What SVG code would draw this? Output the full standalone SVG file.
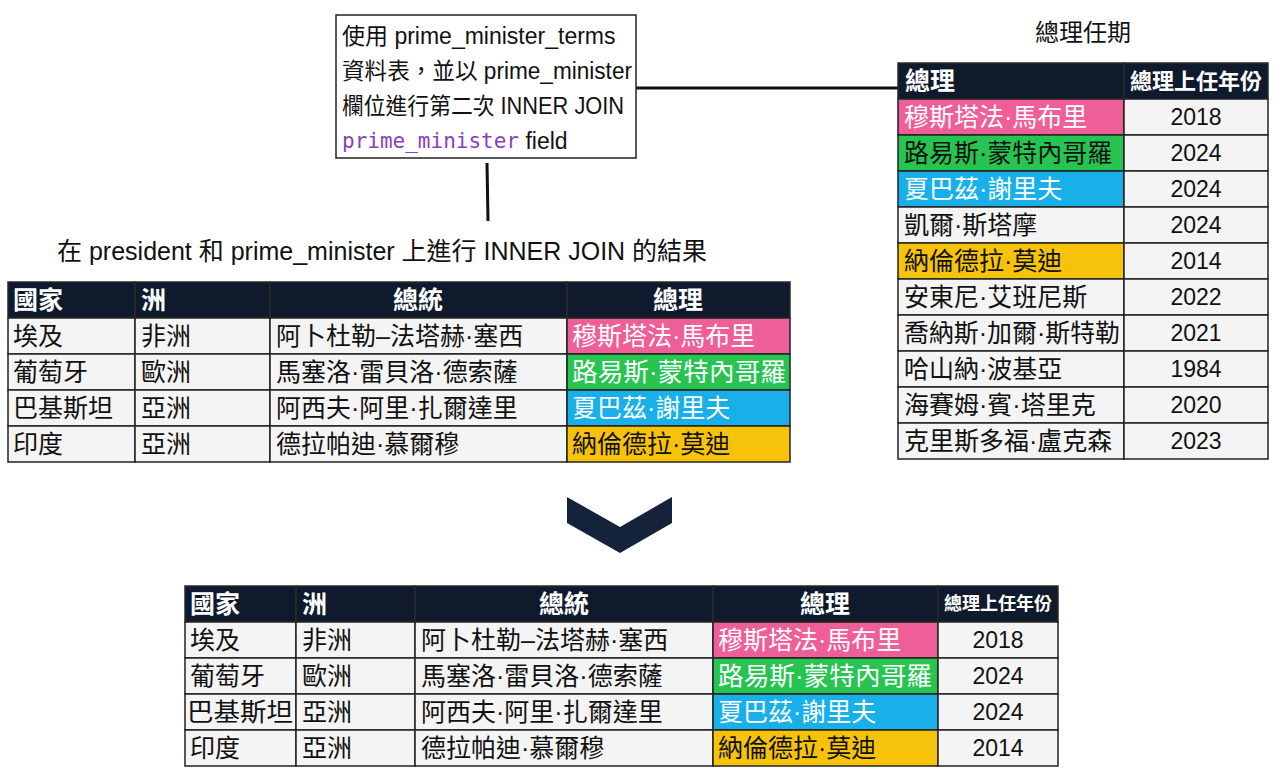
<svg xmlns="http://www.w3.org/2000/svg" width="1284" height="778" viewBox="0 0 1284 778">
<style>
text{font-family:"Liberation Sans","Noto Sans CJK TC",sans-serif;font-size:25px;fill:#111;dominant-baseline:central}
.h{fill:#0f1b2d;stroke:#2a2a2a;stroke-width:1.5}
.c{fill:#f4f4f4;stroke:#222;stroke-width:1.5}
.ht{fill:#fff;font-weight:bold}
.w{fill:#fff}
.mid{text-anchor:middle}
.pk{fill:#ef5f97;stroke:#222;stroke-width:1.5}
.gr{fill:#27c452;stroke:#222;stroke-width:1.5}
.bl{fill:#19b0ea;stroke:#222;stroke-width:1.5}
.yl{fill:#f6c30a;stroke:#222;stroke-width:1.5}
.num{text-anchor:middle;font-size:23px}
.note{font-size:23px}
.sm{font-size:18px}
</style>
<rect width="1284" height="778" fill="#fff"/>
<g id="connectors" stroke="#111" stroke-width="3" fill="none">
<line x1="636" y1="88" x2="898" y2="88"/>
<line x1="487" y1="163" x2="488" y2="221"/>
</g>
<g id="note">
<rect x="336" y="15" width="300" height="143" fill="#fff" stroke="#222" stroke-width="1.5"/>
<text class="note" x="342" y="36">使用 prime_minister_terms</text>
<text class="note" x="342" y="71" textLength="290" lengthAdjust="spacingAndGlyphs">資料表，並以 prime_minister</text>
<text class="note" x="342" y="106" textLength="282" lengthAdjust="spacingAndGlyphs">欄位進行第二次 INNER JOIN</text>
<text class="note" x="342" y="141"><tspan style="font-family:'DejaVu Sans Mono',monospace;fill:#8a3fc0;font-size:21px">prime_minister</tspan> field</text>
</g>
<g id="title-right"><text x="1083" y="32" class="mid" style="font-size:24px">總理任期</text></g>
<g id="title-left"><text x="57" y="251">在 president 和 prime_minister 上進行 INNER JOIN 的結果</text></g>
<g id="pm-table">
<rect class="h" x="898" y="63" width="226" height="36"/><rect class="h" x="1124" y="63" width="144" height="36"/>
<text class="ht" x="905" y="81">總理</text><text class="ht mid" x="1196" y="81" style="font-size:22px">總理上任年份</text>
<rect class="pk" x="898" y="99" width="226" height="36"/><rect class="c" x="1124" y="99" width="144" height="36"/>
<rect class="gr" x="898" y="135" width="226" height="36"/><rect class="c" x="1124" y="135" width="144" height="36"/>
<rect class="bl" x="898" y="171" width="226" height="36"/><rect class="c" x="1124" y="171" width="144" height="36"/>
<rect class="c" x="898" y="207" width="226" height="36"/><rect class="c" x="1124" y="207" width="144" height="36"/>
<rect class="yl" x="898" y="243" width="226" height="36"/><rect class="c" x="1124" y="243" width="144" height="36"/>
<rect class="c" x="898" y="279" width="226" height="36"/><rect class="c" x="1124" y="279" width="144" height="36"/>
<rect class="c" x="898" y="315" width="226" height="36"/><rect class="c" x="1124" y="315" width="144" height="36"/>
<rect class="c" x="898" y="351" width="226" height="36"/><rect class="c" x="1124" y="351" width="144" height="36"/>
<rect class="c" x="898" y="387" width="226" height="36"/><rect class="c" x="1124" y="387" width="144" height="36"/>
<rect class="c" x="898" y="423" width="226" height="36"/><rect class="c" x="1124" y="423" width="144" height="36"/>
<text class="w" x="904" y="117">穆斯塔法·馬布里</text><text class="num" x="1196" y="117">2018</text>
<text x="904" y="153">路易斯·蒙特內哥羅</text><text class="num" x="1196" y="153">2024</text>
<text class="w" x="904" y="189">夏巴茲·謝里夫</text><text class="num" x="1196" y="189">2024</text>
<text x="904" y="225">凱爾·斯塔摩</text><text class="num" x="1196" y="225">2024</text>
<text x="904" y="261">納倫德拉·莫迪</text><text class="num" x="1196" y="261">2014</text>
<text x="904" y="297">安東尼·艾班尼斯</text><text class="num" x="1196" y="297">2022</text>
<text x="904" y="333" textLength="216" lengthAdjust="spacingAndGlyphs">喬納斯·加爾·斯特勒</text><text class="num" x="1196" y="333">2021</text>
<text x="904" y="369">哈山納·波基亞</text><text class="num" x="1196" y="369">1984</text>
<text x="904" y="405">海賽姆·賓·塔里克</text><text class="num" x="1196" y="405">2020</text>
<text x="904" y="441">克里斯多福·盧克森</text><text class="num" x="1196" y="441">2023</text>
</g>
<g id="join1-table">
<rect class="h" x="8" y="282" width="127" height="36"/><rect class="h" x="135" y="282" width="135" height="36"/><rect class="h" x="270" y="282" width="297" height="36"/><rect class="h" x="567" y="282" width="223" height="36"/>
<text class="ht" x="13" y="300">國家</text><text class="ht" x="141" y="300">洲</text><text class="ht mid" x="418" y="300">總統</text><text class="ht mid" x="678" y="300">總理</text>
<rect class="c" x="8" y="318" width="127" height="36"/><rect class="c" x="135" y="318" width="135" height="36"/><rect class="c" x="270" y="318" width="297" height="36"/><rect class="pk" x="567" y="318" width="223" height="36"/>
<rect class="c" x="8" y="354" width="127" height="36"/><rect class="c" x="135" y="354" width="135" height="36"/><rect class="c" x="270" y="354" width="297" height="36"/><rect class="gr" x="567" y="354" width="223" height="36"/>
<rect class="c" x="8" y="390" width="127" height="36"/><rect class="c" x="135" y="390" width="135" height="36"/><rect class="c" x="270" y="390" width="297" height="36"/><rect class="bl" x="567" y="390" width="223" height="36"/>
<rect class="c" x="8" y="426" width="127" height="36"/><rect class="c" x="135" y="426" width="135" height="36"/><rect class="c" x="270" y="426" width="297" height="36"/><rect class="yl" x="567" y="426" width="223" height="36"/>
<text x="13" y="336">埃及</text><text x="141" y="336">非洲</text><text x="276" y="336">阿卜杜勒–法塔赫·塞西</text><text class="w" x="572" y="336">穆斯塔法·馬布里</text>
<text x="13" y="372">葡萄牙</text><text x="141" y="372">歐洲</text><text x="276" y="372">馬塞洛·雷貝洛·德索薩</text><text class="w" x="572" y="372" textLength="214" lengthAdjust="spacingAndGlyphs">路易斯·蒙特內哥羅</text>
<text x="13" y="408">巴基斯坦</text><text x="141" y="408">亞洲</text><text x="276" y="408">阿西夫·阿里·扎爾達里</text><text class="w" x="572" y="408">夏巴茲·謝里夫</text>
<text x="13" y="444">印度</text><text x="141" y="444">亞洲</text><text x="276" y="444">德拉帕迪·慕爾穆</text><text x="572" y="444">納倫德拉·莫迪</text>
</g>
<g id="chevron"><polygon points="567,497 620,527 672,497 672,523 620,553 567,523" fill="#14233a"/></g>
<g id="result-table">
<rect class="h" x="185" y="586" width="111" height="36"/><rect class="h" x="296" y="586" width="119" height="36"/><rect class="h" x="415" y="586" width="298" height="36"/><rect class="h" x="713" y="586" width="225" height="36"/><rect class="h" x="938" y="586" width="120" height="36"/>
<text class="ht" x="190" y="604">國家</text><text class="ht" x="302" y="604">洲</text><text class="ht mid" x="564" y="604">總統</text><text class="ht mid" x="825" y="604">總理</text><text class="ht mid sm" x="998" y="604">總理上任年份</text>
<rect class="c" x="185" y="622" width="111" height="36"/><rect class="c" x="296" y="622" width="119" height="36"/><rect class="c" x="415" y="622" width="298" height="36"/><rect class="pk" x="713" y="622" width="225" height="36"/><rect class="c" x="938" y="622" width="120" height="36"/>
<rect class="c" x="185" y="658" width="111" height="36"/><rect class="c" x="296" y="658" width="119" height="36"/><rect class="c" x="415" y="658" width="298" height="36"/><rect class="gr" x="713" y="658" width="225" height="36"/><rect class="c" x="938" y="658" width="120" height="36"/>
<rect class="c" x="185" y="694" width="111" height="36"/><rect class="c" x="296" y="694" width="119" height="36"/><rect class="c" x="415" y="694" width="298" height="36"/><rect class="bl" x="713" y="694" width="225" height="36"/><rect class="c" x="938" y="694" width="120" height="36"/>
<rect class="c" x="185" y="730" width="111" height="36"/><rect class="c" x="296" y="730" width="119" height="36"/><rect class="c" x="415" y="730" width="298" height="36"/><rect class="yl" x="713" y="730" width="225" height="36"/><rect class="c" x="938" y="730" width="120" height="36"/>
<text x="190" y="640">埃及</text><text x="302" y="640">非洲</text><text x="421" y="640">阿卜杜勒–法塔赫·塞西</text><text class="w" x="718" y="640">穆斯塔法·馬布里</text><text class="num" x="998" y="640">2018</text>
<text x="190" y="676">葡萄牙</text><text x="302" y="676">歐洲</text><text x="421" y="676">馬塞洛·雷貝洛·德索薩</text><text class="w" x="718" y="676" textLength="214" lengthAdjust="spacingAndGlyphs">路易斯·蒙特內哥羅</text><text class="num" x="998" y="676">2024</text>
<text x="187" y="712" textLength="106" lengthAdjust="spacingAndGlyphs">巴基斯坦</text><text x="302" y="712">亞洲</text><text x="421" y="712">阿西夫·阿里·扎爾達里</text><text class="w" x="718" y="712">夏巴茲·謝里夫</text><text class="num" x="998" y="712">2024</text>
<text x="190" y="748">印度</text><text x="302" y="748">亞洲</text><text x="421" y="748">德拉帕迪·慕爾穆</text><text x="718" y="748">納倫德拉·莫迪</text><text class="num" x="998" y="748">2014</text>
</g>
</svg>
